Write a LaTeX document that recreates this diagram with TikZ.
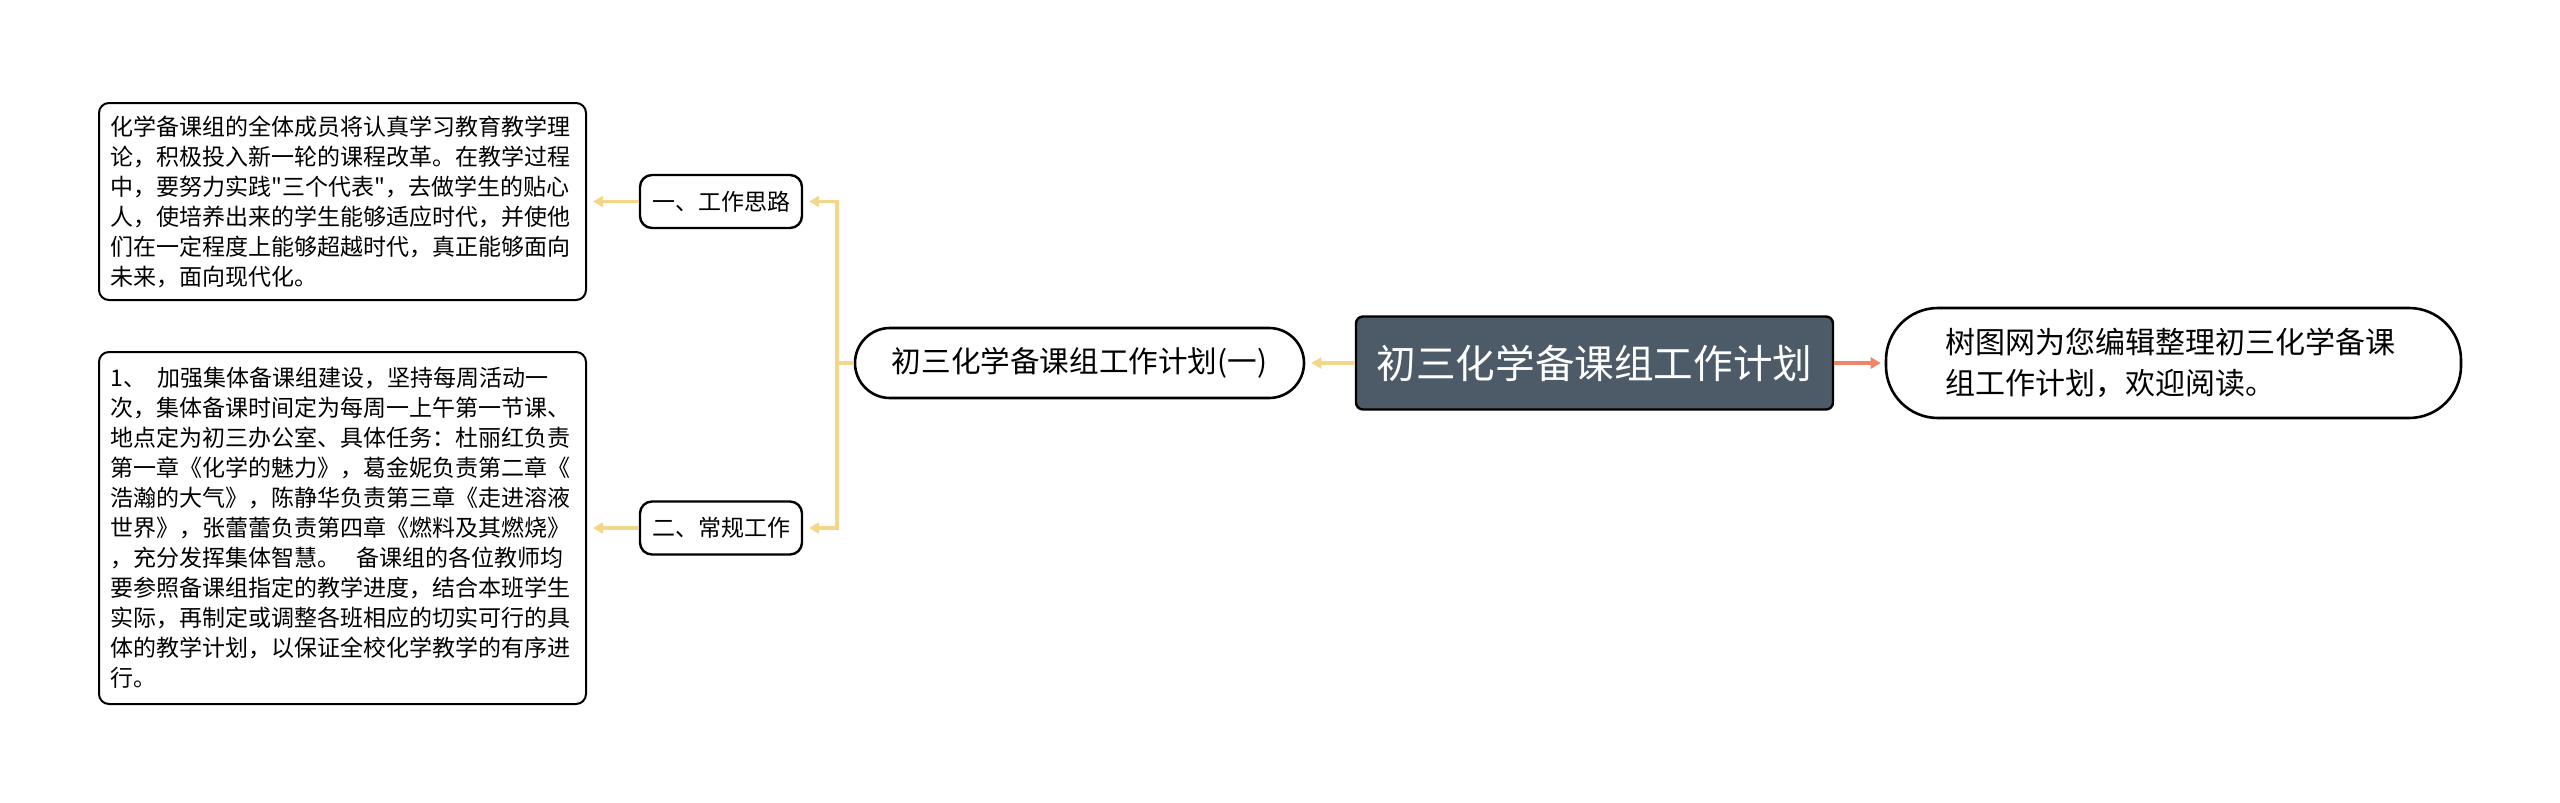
\documentclass[tikz,border=0pt]{standalone}
\usepackage{fontspec}
\newfontfamily\cjk{Noto Sans CJK SC}
\usetikzlibrary{arrows.meta}
\definecolor{yl}{HTML}{F4D68A}
\definecolor{sal}{HTML}{EF8468}
\definecolor{slate}{HTML}{4D5B69}
\begin{document}
\begin{tikzpicture}[x=0.5pt,y=-0.5pt,
  txtbox/.style={draw,line width=1pt,rounded corners=5pt,align=left,text width=232pt,inner xsep=5.75pt,inner ysep=0pt,font=\cjk\fontsize{11.5pt}{15pt}\selectfont},
  subnode/.style={draw,line width=1.2pt,rounded corners=6pt,minimum width=81pt,minimum height=26.5pt,inner sep=0pt,font=\cjk\fontsize{11.5pt}{14pt}\selectfont},
  midnode/.style={draw,line width=1.3pt,rounded corners=17.5pt,minimum width=224.5pt,minimum height=35pt,inner sep=0pt,font=\cjk\fontsize{14.8pt}{17pt}\selectfont},
  rootnode/.style={draw,fill=slate,line width=1.2pt,rounded corners=3.5pt,minimum width=238.5pt,minimum height=46.5pt,inner sep=0pt,text=white,font=\cjk\fontsize{19.8pt}{23pt}\selectfont},
  rightnode/.style={draw,line width=1.3pt,rounded corners=26pt,minimum width=287.5pt,minimum height=55pt,inner sep=0pt,align=left,text width=228pt,font=\cjk\fontsize{15pt}{20.5pt}\selectfont},
  yconn/.style={draw=yl,line width=1.7pt,-{Triangle[length=5pt,width=5.5pt]},shorten >=3pt},
  yplain/.style={draw=yl,line width=1.7pt},
  sconn/.style={draw=sal,line width=1.7pt,-{Triangle[length=5pt,width=5.5pt]},shorten >=2pt}]
\path[use as bounding box] (0,0) rectangle (2560,803);

\node[rootnode] (root) at (1594.5,363) {初三化学备课组工作计划};
\node[rightnode] (right) at (2173.5,363) {树图网为您编辑整理初三化学备课\\组工作计划，欢迎阅读。};
\node[midnode] (mid) at (1079.5,363) {初三化学备课组工作计划(一)};
\node[subnode] (n1) at (721,201.5) {一、工作思路};
\node[subnode] (n2) at (721,528) {二、常规工作};
\node[txtbox,minimum height=98.5pt] (b1) at (342.5,201.5) {化学备课组的全体成员将认真学习教育教学理\\论，积极投入新一轮的课程改革。在教学过程\\中，要努力实践"三个代表"，去做学生的贴心\\人，使培养出来的学生能够适应时代，并使他\\们在一定程度上能够超越时代，真正能够面向\\未来，面向现代化。};
\node[txtbox,minimum height=176pt] (b2) at (342.5,528) {1、\hspace{0.5em}加强集体备课组建设，坚持每周活动一\\次，集体备课时间定为每周一上午第一节课、\\地点定为初三办公室、具体任务：杜丽红负责\\第一章《化学的魅力》，葛金妮负责第二章《\\浩瀚的大气》，陈静华负责第三章《走进溶液\\世界》，张蕾蕾负责第四章《燃料及其燃烧》\\，充分发挥集体智慧。\hspace{0.7em}备课组的各位教师均\\要参照备课组指定的教学进度，结合本班学生\\实际，再制定或调整各班相应的切实可行的具\\体的教学计划，以保证全校化学教学的有序进\\行。};

\coordinate (j) at (837,363);
\draw[yconn] (root.west) -- (mid.east);
\draw[sconn] (root.east) -- (right.west);
\draw[yplain] (mid.west) -- (j);
\draw[yconn] (j) |- (n1.east);
\draw[yconn] (j) |- (n2.east);
\draw[yconn] (n1.west) -- (b1.east);
\draw[yconn] (n2.west) -- (b2.east);
\end{tikzpicture}
\end{document}
